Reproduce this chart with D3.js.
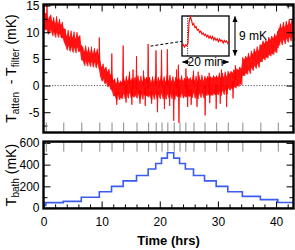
<!DOCTYPE html>
<html lang="en">
<head>
    <meta charset="UTF-8">
    <title>Attenuator vs filter temperature</title>
    <script src="https://d3js.org/d3.v7.min.js"></script>
    <style>
        body {
            margin: 0;
            background: white;
        }

        svg {
            display: block;
            font-family: "Liberation Sans", Arial, sans-serif;
        }

        .frame {
            fill: none;
            stroke: #000;
            stroke-width: 2.4;
        }

        .tick text {
            font-size: 12px;
            fill: #000;
        }

        .ticks line {
            stroke: #000;
            stroke-width: 1;
        }

        .marks line {
            stroke: #8a8a8a;
            stroke-width: 1;
        }

        .band {
            fill: #ff0000;
            fill-opacity: 0.8;
            stroke: none;
        }

        .trace {
            fill: none;
            stroke: #ff0000;
            stroke-width: 0.6;
        }

        .bath {
            fill: none;
            stroke: #3a5bf0;
            stroke-width: 1.6;
        }
    </style>
</head>
<body>
    <div id="chart"></div>

    <script>
        // Noisy trace read as an upper / lower envelope, one pair every 0.25 hrs (0 .. 43 hrs)
        const bandStep = 0.25;
        const bandHi = [
            14.2, 13.6, 13.5, 12.4, 12.9, 13.3, 12.0, 12.8, 11.7, 13.0,
            11.6, 12.5, 11.4, 11.9, 10.7, 10.6, 9.3, 10.4, 9.1, 10.3,
            9.0, 10.1, 8.8, 10.0, 9.1, 9.4, 7.6, 7.3, 6.4, 7.5,
            6.3, 7.2, 6.1, 7.3, 6.0, 7.0, 6.1, 6.9, 5.8, 4.6,
            3.5, 4.1, 3.1, 3.5, 2.6, 3.1, 2.1, 2.0, 1.0, 1.3,
            0.4, 1.5, 0.5, 0.9, 0.6, 1.7, 0.8, 1.8, 0.9, 1.9,
            0.9, 1.4, 1.0, 1.6, 1.0, 1.9, 0.8, 1.8, 0.7, 1.7,
            1.2, 1.6, 1.1, 1.6, 0.6, 1.7, 0.8, 1.9, 0.7, 1.6,
            0.9, 1.9, 0.8, 1.7, 0.7, 1.8, 0.9, 2.0, 0.8, 1.7,
            0.7, 1.6, 1.1, 1.5, 1.0, 1.9, 0.9, 1.4, 1.1, 1.7,
            1.2, 1.5, 1.0, 2.0, 0.9, 1.8, 0.8, 1.9, 1.0, 2.0,
            0.9, 1.8, 1.3, 1.8, 1.3, 1.7, 1.4, 1.9, 1.5, 1.9,
            1.5, 2.4, 1.4, 2.4, 1.6, 2.6, 1.7, 2.7, 2.2, 2.7,
            2.4, 3.0, 2.6, 3.2, 2.9, 3.5, 3.2, 5.3, 4.9, 5.5,
            5.2, 6.1, 5.3, 6.5, 5.9, 6.9, 6.3, 7.3, 6.5, 7.7,
            7.6, 8.4, 7.9, 8.5, 8.2, 9.1, 8.6, 9.3, 8.9, 9.7,
            9.2, 10.2, 10.7, 11.6, 10.8, 11.9, 11.0, 12.1, 11.3, 12.4,
            11.5, 12.5, 11.6
        ];
        const bandLo = [
            10.8, 10.4, 10.5, 9.6, 9.9, 10.4, 9.3, 10.0, 9.0, 9.9,
            9.0, 9.7, 8.9, 8.9, 8.1, 7.5, 6.6, 7.4, 6.4, 7.2,
            6.2, 7.1, 6.1, 7.2, 6.3, 6.5, 4.8, 4.6, 3.7, 4.5,
            3.6, 4.4, 3.5, 4.4, 3.4, 4.3, 3.3, 4.1, 3.1, 1.7,
            0.8, 1.2, 0.3, 0.6, -0.3, 0.1, -0.7, -1.0, -2.0, -1.9,
            -2.8, -1.7, -2.7, -2.3, -2.5, -1.6, -2.5, -1.5, -2.4, -1.4,
            -2.3, -2.0, -2.2, -1.8, -2.4, -1.5, -2.5, -1.6, -2.6, -1.7,
            -2.0, -1.9, -2.2, -1.8, -2.7, -1.7, -2.6, -1.6, -2.6, -1.7,
            -2.5, -1.5, -2.5, -1.7, -2.6, -1.6, -2.4, -1.5, -2.5, -1.7,
            -2.6, -1.8, -2.2, -1.9, -2.3, -1.5, -2.4, -2.0, -2.2, -1.8,
            -2.1, -1.9, -2.3, -1.4, -2.4, -1.6, -2.5, -1.5, -2.3, -1.4,
            -2.4, -1.6, -1.9, -1.6, -2.0, -1.7, -1.9, -1.5, -1.8, -1.5,
            -1.8, -1.0, -1.9, -1.0, -1.7, -0.8, -1.6, -0.5, -0.9, -0.5,
            -0.7, -0.2, -0.5, 0.0, -0.2, 0.3, 0.1, 1.9, 1.8, 2.3,
            2.1, 2.9, 2.2, 3.3, 2.8, 3.7, 3.2, 4.1, 3.4, 4.4,
            4.4, 5.1, 4.8, 5.3, 5.1, 5.8, 5.5, 6.0, 5.8, 6.5,
            6.1, 7.0, 7.5, 8.3, 7.6, 8.6, 7.8, 8.8, 8.1, 9.1,
            8.3, 9.2, 8.4
        ];

        // spikes in the trace (time in hrs, peak in mK)
        const spikeTimes = [0.6, 9.6, 11.75, 13.7, 16.0, 18.0, 19.35, 20.3, 21.3, 23.2, 24.5, 25.8,
                            14.8, 15.4, 17.2, 22.9, 26.6, 28.5, 30.6, 33.0,
                            14.2, 19.6, 20.8, 22.4, 23.3, 24.8, 27.8, 29.7, 31.5,
                            12.6, 15.2, 16.6, 17.5, 18.6, 21.7, 25.4, 26.4, 28.6, 30.4, 32.6];
        const spikePeaks = [15.3, 9.0, 6.0, 7.5, 5.5, 7.8, 6.6, 6.7, 6.8, 3.9, 3.2, 2.8,
                            2.6, 3.0, 2.8, 3.0, 2.6, 2.4, 3.0, 3.8,
                            -3.2, -5.0, -4.4, -6.6, -7.0, -4.0, -5.6, -4.4, -4.0,
                            -3.6, -3.6, -3.4, -3.8, -3.4, -3.8, -3.6, -4.0, -3.3, -3.4, -2.4];

        // bath temperature steps (hrs, mK)
        const bathTimes = [0, 0.4, 3.4, 6.5, 9.6, 11.7, 13.7, 16.0, 18.0, 19.3, 20.3, 21.3,
                           22.4, 23.4, 24.4, 25.8, 27.7, 29.7, 31.7, 34.2, 37.3, 40.3, 43];
        const bathTemps = [25, 50, 62, 100, 150, 200, 250, 300, 360, 410, 460, 510,
                           460, 410, 360, 300, 250, 200, 150, 108, 78, 52, 52];

        // inset: one step response, every 0.5 min over 20 min, 9 mK tall
        const insetStep = 0.5;
        const insetVals = [2.2, 2.6, 2.0, 2.5, 2.3, 2.8, 7.5, 8.9, 8.2, 7.0, 7.3, 6.4, 6.6, 5.8,
                           6.0, 5.3, 5.6, 4.9, 5.2, 4.6, 4.9, 4.3, 4.7, 4.0, 4.5, 3.9, 4.4, 3.6,
                           4.1, 3.5, 3.9, 3.2, 3.8, 3.3, 3.6, 2.9, 3.5, 3.1, 3.4, 2.8, 3.2];
        const insetStepAt = 2.4;

        const timeTicks = [0, 10, 20, 30, 40];
        const timeMinor = [2, 4, 6, 8, 12, 14, 16, 18, 22, 24, 26, 28, 32, 34, 36, 38, 42];
        const diffTicks = [-5, 0, 5, 10, 15];
        const diffMinor = [-7.5, -2.5, 2.5, 7.5, 12.5];
        const bathTicks = [0, 200, 400, 600];
        const bathMinor = [100, 300, 500];

        const width = 295, height = 250;
        const svg = d3.select('#chart').append('svg')
            .attr('width', width)
            .attr('height', height);

        const x = d3.scaleLinear().domain([0, 43]).range([43.5, 293.5]);
        const yTop = d3.scaleLinear().domain([-8.8, 15.2]).range([132.5, 4.5]);
        const yBot = d3.scaleLinear().domain([-3, 612]).range([208.4, 141.6]);

        function axisGroup(cls, axis, tx, ty) {
            const g = svg.append('g').attr('class', cls)
                .attr('transform', `translate(${tx},${ty})`)
                .call(axis);
            g.select('.domain').remove();
            return g;
        }
        const fmt = d => String(d);

        // ---- top panel ----
        svg.append('line')
            .attr('x1', x(0)).attr('x2', x(43))
            .attr('y1', yTop(0)).attr('y2', yTop(0))
            .attr('stroke', '#444').attr('stroke-width', 0.9)
            .attr('stroke-dasharray', '1.2,1.6');

        const band = d3.area()
            .x((d, i) => x(i * bandStep))
            .y0((d, i) => yTop(bandLo[i]))
            .y1(d => yTop(d));
        svg.append('path').attr('class', 'band').attr('d', band(bandHi));

        const pts = [];
        bandHi.forEach((v, i) => {
            pts.push([i * bandStep, v]);
            pts.push([i * bandStep + bandStep / 2, bandLo[i]]);
        });
        const line = d3.line().x(d => x(d[0])).y(d => yTop(d[1]));
        svg.append('path').attr('class', 'trace').attr('d', line(pts));

        spikeTimes.forEach((t, i) => {
            const k = Math.min(bandHi.length - 1, Math.round(t / bandStep));
            const base = (bandHi[k] + bandLo[k]) / 2;
            svg.append('path')
                .attr('d', line([[t - 0.09, base], [t, spikePeaks[i]], [t + 0.09, base]]))
                .attr('fill', '#ff0000').attr('stroke', '#ff0000').attr('stroke-width', 0.8);
        });

        const tTop = yTop.range()[1], tBot = yTop.range()[0];
        axisGroup('ticks', d3.axisLeft(yTop).tickValues(diffTicks).tickSize(-7).tickPadding(4).tickFormat(fmt), x(0), 0);
        axisGroup('ticks', d3.axisLeft(yTop).tickValues(diffMinor).tickSize(-4).tickFormat(''), x(0), 0);
        axisGroup('ticks', d3.axisRight(yTop).tickValues(diffTicks).tickSize(-7).tickFormat(''), x(43), 0);
        axisGroup('ticks', d3.axisRight(yTop).tickValues(diffMinor).tickSize(-4).tickFormat(''), x(43), 0);
        axisGroup('ticks', d3.axisTop(x).tickValues(timeTicks).tickSize(-7).tickFormat(''), 0, tTop);
        axisGroup('ticks', d3.axisTop(x).tickValues(timeMinor).tickSize(-4).tickFormat(''), 0, tTop);
        axisGroup('marks', d3.axisBottom(x).tickValues(bathTimes.slice(1, -1)).tickSize(-10).tickFormat(''), 0, tBot);

        svg.append('rect').attr('class', 'frame')
            .attr('x', x(0)).attr('y', tTop)
            .attr('width', x(43) - x(0)).attr('height', tBot - tTop);

        // ---- inset ----
        const inset = { left: 182, top: 16, w: 47, h: 40 };
        const ix = d3.scaleLinear().domain([0, 20]).range([inset.left, inset.left + inset.w]);
        const iy = d3.scaleLinear().domain([0, 9]).range([inset.top + inset.h, inset.top]);

        svg.append('rect')
            .attr('x', inset.left).attr('y', inset.top)
            .attr('width', inset.w).attr('height', inset.h)
            .attr('fill', 'white').attr('stroke', '#000').attr('stroke-width', 1.3);
        svg.append('line')
            .attr('x1', ix(insetStepAt)).attr('x2', ix(insetStepAt))
            .attr('y1', iy(0)).attr('y2', iy(9))
            .attr('stroke', '#000').attr('stroke-width', 0.9).attr('stroke-dasharray', '1,1.3');
        svg.append('path')
            .attr('d', d3.line().x((d, i) => ix(i * insetStep)).y(d => iy(d))(insetVals))
            .attr('fill', 'none').attr('stroke', '#ff0000').attr('stroke-width', 1.1);

        // leader from the spike at 18 hrs to the inset
        svg.append('line')
            .attr('x1', x(18.4)).attr('y1', yTop(7.4))
            .attr('x2', inset.left).attr('y2', iy(3.3))
            .attr('stroke', '#000').attr('stroke-width', 1).attr('stroke-dasharray', '3,2');

        const defs = svg.append('defs');
        defs.append('marker').attr('id', 'head')
            .attr('viewBox', '0 0 6 6').attr('refX', 5.5).attr('refY', 3)
            .attr('markerWidth', 6).attr('markerHeight', 6)
            .attr('markerUnits', 'userSpaceOnUse').attr('orient', 'auto-start-reverse')
            .append('path').attr('d', 'M0,0.5 L6,3 L0,5.5 Z').attr('fill', '#000');

        const arrowX = inset.left + inset.w + 6;
        svg.append('line')
            .attr('x1', arrowX).attr('x2', arrowX)
            .attr('y1', iy(9) + 0.5).attr('y2', iy(0) - 0.5)
            .attr('stroke', '#000').attr('stroke-width', 1.1)
            .attr('marker-start', 'url(#head)').attr('marker-end', 'url(#head)');
        svg.append('text')
            .attr('x', arrowX + 4).attr('y', iy(4.5) + 4)
            .attr('font-size', 12).text('9 mK');

        const spanY = inset.top + inset.h + 6;
        svg.append('line')
            .attr('x1', ix(3.2)).attr('x2', ix(0) + 0.5)
            .attr('y1', spanY).attr('y2', spanY)
            .attr('stroke', '#000').attr('stroke-width', 1.1).attr('marker-end', 'url(#head)');
        svg.append('line')
            .attr('x1', ix(16.8)).attr('x2', ix(20) - 0.5)
            .attr('y1', spanY).attr('y2', spanY)
            .attr('stroke', '#000').attr('stroke-width', 1.1).attr('marker-end', 'url(#head)');
        svg.append('text')
            .attr('x', ix(10)).attr('y', spanY + 4)
            .attr('text-anchor', 'middle').attr('font-size', 12).text('20 min');

        // ---- bottom panel ----
        const bTop = yBot.range()[1], bBot = yBot.range()[0];
        svg.append('path').attr('class', 'bath')
            .attr('d', d3.line().curve(d3.curveStepAfter)
                .x((d, i) => x(bathTimes[i])).y(d => yBot(d))(bathTemps));

        axisGroup('ticks', d3.axisLeft(yBot).tickValues(bathTicks).tickSize(-7).tickPadding(4).tickFormat(fmt), x(0), 0);
        axisGroup('ticks', d3.axisLeft(yBot).tickValues(bathMinor).tickSize(-4).tickFormat(''), x(0), 0);
        axisGroup('ticks', d3.axisRight(yBot).tickValues(bathTicks).tickSize(-7).tickFormat(''), x(43), 0);
        axisGroup('ticks', d3.axisRight(yBot).tickValues(bathMinor).tickSize(-4).tickFormat(''), x(43), 0);
        axisGroup('ticks', d3.axisBottom(x).tickValues(timeTicks).tickSize(-7).tickPadding(9).tickFormat(fmt), 0, bBot);
        axisGroup('ticks', d3.axisBottom(x).tickValues(timeMinor).tickSize(-4).tickFormat(''), 0, bBot);
        axisGroup('marks', d3.axisTop(x).tickValues(bathTimes.slice(1, -1)).tickSize(-10).tickFormat(''), 0, bTop);

        svg.append('rect').attr('class', 'frame')
            .attr('x', x(0)).attr('y', bTop)
            .attr('width', x(43) - x(0)).attr('height', bBot - bTop);

        // ---- axis titles ----
        const t1 = svg.append('text')
            .attr('transform', `translate(16,${(tTop + tBot) / 2}) rotate(-90)`)
            .attr('text-anchor', 'middle').attr('font-size', 14);
        t1.append('tspan').text('T');
        t1.append('tspan').attr('font-size', 10).attr('dy', 3).text('atten');
        t1.append('tspan').attr('dy', -3).text('\u00a0 - T');
        t1.append('tspan').attr('font-size', 10).attr('dy', 3).text('filter');
        t1.append('tspan').attr('dy', -3).text(' (mK)');

        const t2 = svg.append('text')
            .attr('transform', `translate(16,${(bTop + bBot) / 2}) rotate(-90)`)
            .attr('text-anchor', 'middle').attr('font-size', 14);
        t2.append('tspan').text('T');
        t2.append('tspan').attr('font-size', 10).attr('dy', 3).text('bath');
        t2.append('tspan').attr('dy', -3).text(' (mK)');

        svg.append('text')
            .attr('x', (x(0) + x(43)) / 2).attr('y', 245)
            .attr('text-anchor', 'middle')
            .attr('font-size', 13).attr('font-weight', 'bold')
            .text('Time (hrs)');
    </script>
</body>
</html>
